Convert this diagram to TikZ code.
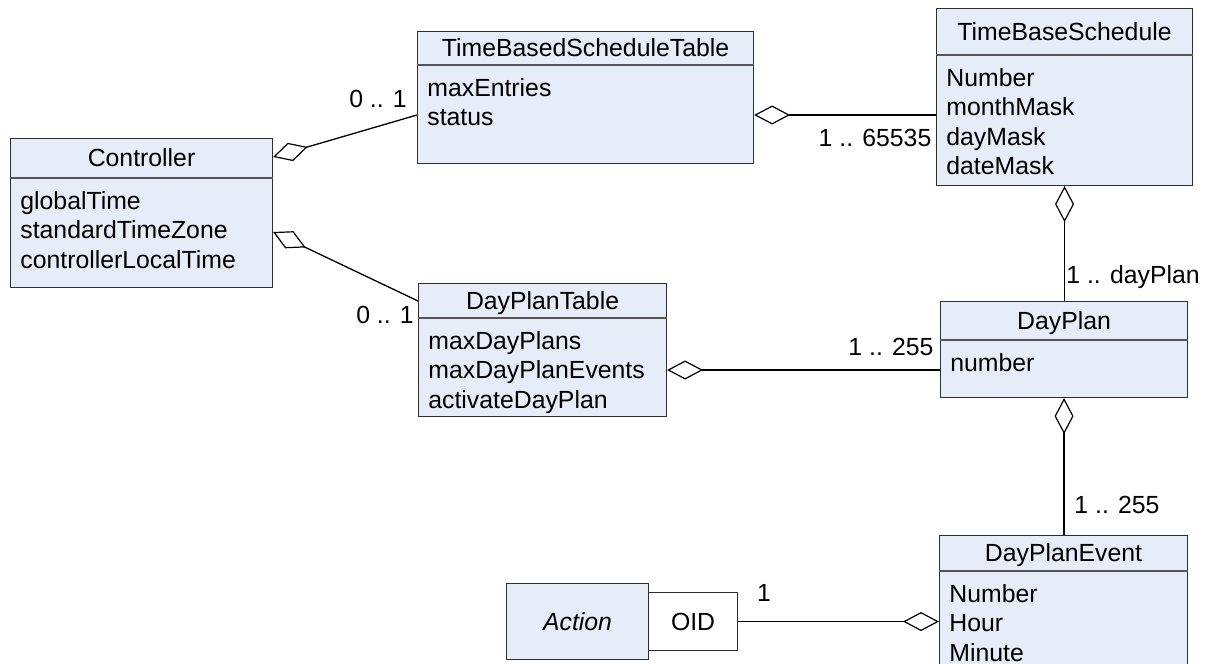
\documentclass[tikz,border=0pt]{standalone}
\usepackage{fontspec}
\setmainfont{Liberation Sans}
\usetikzlibrary{arrows.meta,calc}

\definecolor{classfill}{HTML}{E6ECF8}
\definecolor{classdraw}{HTML}{2E2E2E}
\definecolor{sepline}{HTML}{555555}

\tikzset{
  box/.style={draw=classdraw, fill=classfill, line width=0.55pt, inner sep=0pt, anchor=north west},
  qualbox/.style={draw=classdraw, fill=white, line width=0.55pt, inner sep=0pt, anchor=north west},
  classtitle/.style={inner sep=0pt, anchor=base},
  attr/.style={inner sep=0pt, anchor=base west},
  mult/.style={inner sep=0pt},
  agg/.style={{Diamond[open,length=18pt,width=9.5pt,line width=0.6pt]}-, line width=0.65pt, black},
}

% class box: name, x, y, width, height, header height, title, attribute list
\newcommand\umlclass[8]{%
  \node[box, minimum width=#4*0.5pt, minimum height=#5*0.5pt] (#1) at (#2,#3) {};
  \draw[sepline, line width=0.55pt] ($(#1.north west)+(0,#6)$) -- ($(#1.north east)+(0,#6)$);
  \node[classtitle] (#1-title) at ($(#1.north)+(0,#6/2+8.7)$) {#7};
  \foreach \a [count=\i] in {#8}
    \node[attr] (#1-a\i) at ($(#1.north west)+(10,#6+31+29.5*\i-29.5)$) {\a};
}

\begin{document}
\begin{tikzpicture}[x=0.5pt, y=-0.5pt, font=\fontsize{12.4}{14.75}\selectfont]
\useasboundingbox (0,0) rectangle (1205,664);
\clip (0,0) rectangle (1205,664);

% classes
\umlclass{ctrl}{10}{138}{262}{149}{40}{Controller}{globalTime,standardTimeZone,controllerLocalTime}
\umlclass{tbst}{417}{31}{336}{132}{34}{TimeBasedScheduleTable}{maxEntries,status}
\umlclass{tbs}{936}{8}{256}{177}{47}{TimeBaseSchedule}{Number,monthMask,dayMask,dateMask}
\umlclass{dpt}{418}{283}{248}{133}{35}{DayPlanTable}{maxDayPlans,maxDayPlanEvents,activateDayPlan}
\umlclass{dp}{940}{301}{247}{96}{39}{DayPlan}{number}
\umlclass{dpe}{939}{535}{248}{160}{36}{DayPlanEvent}{Number,Hour,Minute}

% Action class with its OID qualifier
\node[box, minimum width=71pt, minimum height=38pt] (action) at (506,583) {};
\node (action-title) at (action.center) {\itshape Action};
\node[qualbox, minimum width=44.5pt, minimum height=29pt] (oid) at (648,592) {};
\node (oid-title) at (oid.center) {OID};

% aggregations
\draw[agg] ($(ctrl.north east)+(0,19)$) -- ($(tbst.north west)+(0,84)$);
\draw[agg] ($(ctrl.north east)+(0,94)$) -- ($(dpt.north west)+(0,18)$);
\draw[agg] ($(tbst.north east)+(0,84)$) -- ($(tbs.north west)+(0,107)$);
\draw[agg] (tbs.south) -- (tbs.south |- dp.north);
\draw[agg] ($(dpt.north east)+(0,87)$) -- ($(dp.north west)+(0,69)$);
\draw[agg] (dp.south) -- (dp.south |- dpe.north);
\draw[agg] (oid.east -| dpe.west) -- (oid.east);

% multiplicities
\node[mult] (m-ctrl-tbst) at (378,99) {0 .. 1};
\node[mult] (m-ctrl-dpt) at (385,315) {0 .. 1};
\node[mult] (m-tbst-tbs) at (875,138) {1 .. 65535};
\node[mult] (m-tbs-dp) at (1133,277) {1 .. dayPlan};
\node[mult] (m-dpt-dp) at (891,347) {1 .. 255};
\node[mult] (m-dp-dpe) at (1117,505) {1 .. 255};
\node[mult] (m-dpe-oid) at (764,593) {1};
\end{tikzpicture}
\end{document}
